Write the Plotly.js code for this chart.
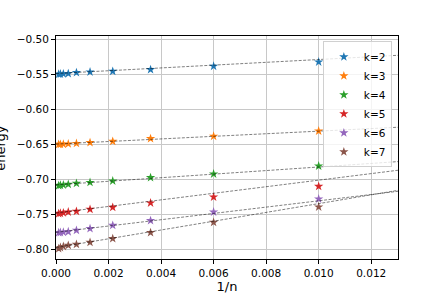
<!DOCTYPE html>
<html>
<head>
<meta charset="utf-8">
<script src="https://cdn.plot.ly/plotly-3.0.1.min.js"></script>
<style>html,body{margin:0;padding:0;background:#fff;}#chart{width:443px;height:295px;}</style>
</head>
<body>
<div id="chart"></div>
<script>
// 1/n values
const invN = [0.01, 0.006, 0.0036, 0.00216, 0.001296, 0.000778, 0.000467, 0.00028, 0.000168, 0.000101];
const seriesNames = ["k=2", "k=3", "k=4", "k=5", "k=6", "k=7"];
const energyK2 = [-0.532, -0.538, -0.5429, -0.5453, -0.5463, -0.5471, -0.5485, -0.5489, -0.5492, -0.5494];
const energyK3 = [-0.6306, -0.638, -0.6414, -0.6453, -0.6471, -0.6483, -0.649, -0.6494, -0.6496, -0.6497];
const energyK4 = [-0.6806, -0.692, -0.6971, -0.702, -0.704, -0.7053, -0.7067, -0.7076, -0.708, -0.7086];
const energyK5 = [-0.7096, -0.7249, -0.7334, -0.7396, -0.7424, -0.7453, -0.7463, -0.7475, -0.748, -0.7486];
const energyK6 = [-0.7277, -0.7463, -0.7586, -0.7653, -0.770, -0.7724, -0.7745, -0.7752, -0.7755, -0.7757];
const energyK7 = [-0.7391, -0.761, -0.7757, -0.7843, -0.7896, -0.7924, -0.7939, -0.7955, -0.797, -0.7986];
// linear fit lines: energy = intercept + slope * (1/n)
const fitIntercepts = [-0.5485, -0.6493, -0.7075, -0.7477, -0.7753, -0.7971];
const fitSlopes = [2.0, 1.85, 2.55, 4.69, 4.5, 6.28];
const fitRange = [0, 0.014];

const colors = ["#1f77b4", "#ff7f0e", "#2ca02c", "#d62728", "#9467bd", "#8c564b"];
const allEnergies = [energyK2, energyK3, energyK4, energyK5, energyK6, energyK7];

const traces = [];
allEnergies.forEach((ys, i) => {
  traces.push({
    x: invN, y: ys, type: "scatter", mode: "markers", name: seriesNames[i],
    marker: {symbol: "star", size: 7, color: colors[i], line: {width: 0}}
  });
});
allEnergies.forEach((ys, i) => {
  traces.push({
    x: fitRange, y: fitRange.map(v => fitIntercepts[i] + fitSlopes[i] * v),
    type: "scatter", mode: "lines", showlegend: false, hoverinfo: "skip",
    line: {color: "#000", width: 0.5, dash: "3px,1.5px"}
  });
});

const axisCommon = {
  showline: true, linecolor: "#000", linewidth: 1, mirror: true,
  ticks: "outside", ticklen: 4, tickcolor: "#000", tickwidth: 1,
  showgrid: true, gridcolor: "#c8c8c8", gridwidth: 1, zeroline: false,
  automargin: false,
  tickfont: {family: "DejaVu Sans", size: 10.5, color: "#000"}
};

const layout = {
  width: 443, height: 295,
  margin: {l: 56, r: 45, t: 36, b: 36},
  paper_bgcolor: "#fff", plot_bgcolor: "#fff",
  font: {family: "DejaVu Sans", color: "#000"},
  xaxis: Object.assign({}, axisCommon, {
    range: [0, 0.01302], tickvals: [0, 0.002, 0.004, 0.006, 0.008, 0.01, 0.012],
    tickformat: ".3f",
    title: {text: "1/n", font: {family: "DejaVu Sans", size: 13, color: "#000"}, standoff: 1}
  }),
  yaxis: Object.assign({}, axisCommon, {
    range: [-0.8134, -0.4949], tickvals: [-0.80, -0.75, -0.70, -0.65, -0.60, -0.55, -0.50],
    tickformat: ".2f"
  }),
  annotations: [{
    text: "energy", textangle: -90, xref: "paper", yref: "paper",
    x: -0.163, y: 0.5, xanchor: "center", yanchor: "middle", showarrow: false,
    font: {family: "DejaVu Sans", size: 13, color: "#000"}
  }],
  legend: {
    x: 0.982, xanchor: "right", y: 0.976, yanchor: "top",
    bgcolor: "rgba(255,255,255,0.8)", bordercolor: "#d0d0d0", borderwidth: 1,
    font: {family: "DejaVu Sans", size: 10.5, color: "#000"}
  },
  showlegend: true
};

Plotly.newPlot("chart", traces, layout, {staticPlot: true, displayModeBar: false});
</script>
</body>
</html>
